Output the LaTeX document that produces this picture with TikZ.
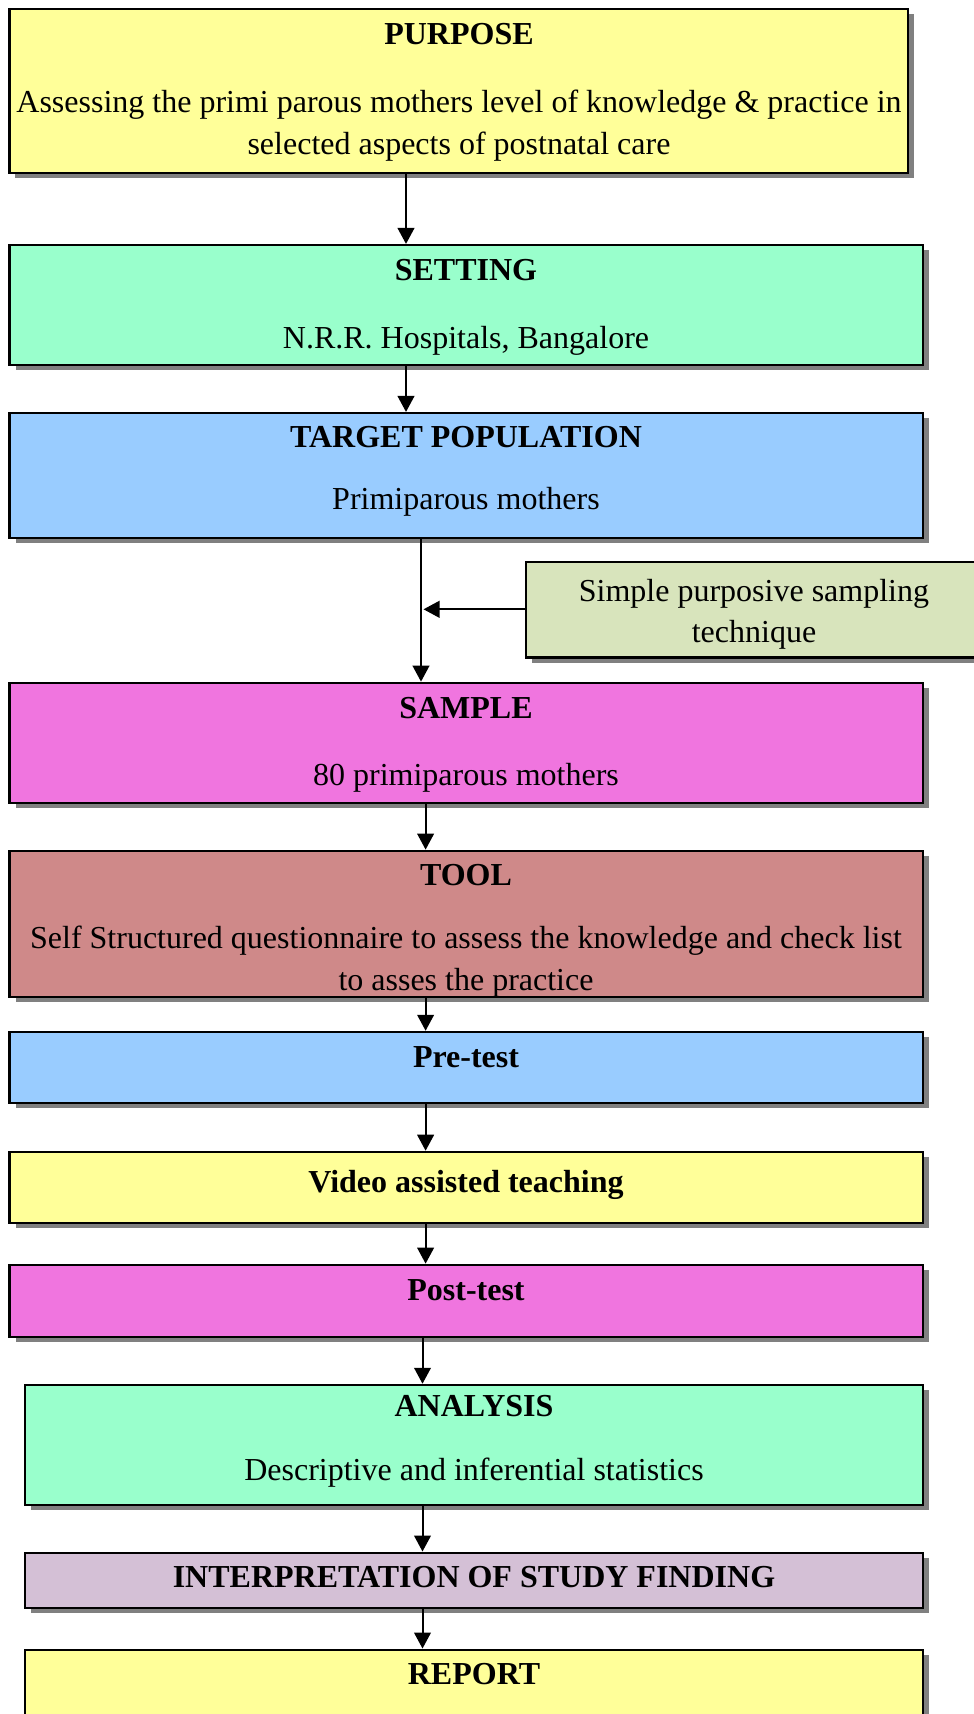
\documentclass[tikz,border=0pt]{standalone}
\usepackage{fontspec}
\setmainfont{Liberation Serif}
\usetikzlibrary{arrows.meta,shadows}
\definecolor{cyel}{HTML}{FFFF99}
\definecolor{cgrn}{HTML}{99FFCC}
\definecolor{cblu}{HTML}{99CCFF}
\definecolor{colv}{HTML}{D8E4BC}
\definecolor{cpnk}{HTML}{F075DF}
\definecolor{crose}{HTML}{CF8989}
\definecolor{clav}{HTML}{D4C0D6}
\begin{document}
\begin{tikzpicture}[x=0.75pt,y=-0.75pt,
  box/.style={draw=black, line width=1.6pt, rectangle, inner sep=0pt,
    drop shadow={shadow xshift=4.5pt, shadow yshift=-3.8pt, fill=black!50, opacity=1}},
  txt/.style={anchor=base, inner sep=0pt, font=\fontsize{24}{29}\selectfont},
  ttl/.style={txt, font=\fontsize{24}{29}\selectfont\bfseries},
  arr/.style={draw=black, line width=1.5pt, -{Triangle[length=12pt,width=12.5pt]}}]
\useasboundingbox (0,0) rectangle (974,1714);
\fill[white] (0,0) rectangle (974,1714);
\begin{scope}
\clip (0,0) rectangle (974,1714);
% boxes
\node[box, fill=cyel, minimum width=673.9pt, minimum height=123pt] (purpose) at (458.75,91) {};
\node[box, fill=cgrn, minimum width=685.1pt, minimum height=90pt] (setting) at (466.25,305) {};
\node[box, fill=cblu, minimum width=685.1pt, minimum height=93.75pt] (target) at (466.25,475.5) {};
\node[box, fill=colv, minimum width=342pt, minimum height=71.6pt] (simple) at (754,609.75) {};
\node[box, fill=cpnk, minimum width=685.1pt, minimum height=90.2pt] (sample) at (466.25,742.85) {};
\node[box, fill=crose, minimum width=685.1pt, minimum height=110pt] (tool) at (466.25,924) {};
\node[box, fill=cblu, minimum width=685.1pt, minimum height=53.6pt] (pre) at (466.25,1067.55) {};
\node[box, fill=cyel, minimum width=685.1pt, minimum height=53.7pt] (video) at (466.25,1187.6) {};
\node[box, fill=cpnk, minimum width=685.1pt, minimum height=54pt] (post) at (466.25,1300.7) {};
\node[box, fill=cgrn, minimum width=673.5pt, minimum height=90.3pt] (analysis) at (474,1445) {};
\node[box, fill=clav, minimum width=673.5pt, minimum height=41.5pt] (interp) at (474,1580.25) {};
\node[box, fill=cyel, minimum width=673.5pt, minimum height=90pt] (report) at (474,1709.6) {};
% texts
\node[ttl] (tpurpose) at (459,44.6) {PURPOSE};
\node[txt] (tpurpose1) at (459,112.5) {Assessing the primi parous mothers level of knowledge \& practice in};
\node[txt] (tpurpose2) at (459,154) {selected aspects of postnatal care};
\node[ttl] (tsetting) at (466,280) {SETTING};
\node[txt] (tsetting1) at (466,348) {N.R.R. Hospitals, Bangalore};
\node[ttl] (ttarget) at (466,447) {TARGET POPULATION};
\node[txt] (ttarget1) at (466,509) {Primiparous mothers};
\node[txt] (tsimple1) at (754,601) {Simple purposive sampling};
\node[txt] (tsimple2) at (754,642.6) {technique};
\node[ttl] (tsample) at (466,718) {SAMPLE};
\node[txt] (tsample1) at (466,785) {80 primiparous mothers};
\node[ttl] (ttool) at (466,885) {TOOL};
\node[txt] (ttool1) at (466,948.7) {Self Structured questionnaire to assess the knowledge and check list};
\node[txt] (ttool2) at (466,990.8) {to asses the practice};
\node[ttl] (tpre) at (466,1067) {Pre-test};
\node[ttl] (tvideo) at (466,1192.7) {Video assisted teaching};
\node[ttl] (tpost) at (466,1300) {Post-test};
\node[ttl] (tanalysis) at (474,1416.6) {ANALYSIS};
\node[txt] (tanalysis1) at (474,1480) {Descriptive and inferential statistics};
\node[ttl] (tinterp) at (474,1587.8) {INTERPRETATION OF STUDY FINDING};
\node[ttl] (treport) at (474,1684.4) {REPORT};
% arrow columns
\coordinate (c1) at (406,0);
\coordinate (c2) at (421,0);
\coordinate (c3) at (425.6,0);
\coordinate (c4) at (422.5,0);
\coordinate (cs) at (423.5,609.3);
\draw[arr] (purpose.south -| c1) -- (setting.north -| c1);
\draw[arr] (setting.south -| c1) -- (target.north -| c1);
\draw[arr] (target.south -| c2) -- (sample.north -| c2);
\draw[arr] (simple.west |- cs) -- (cs);
\draw[arr] (sample.south -| c3) -- (tool.north -| c3);
\draw[arr] (tool.south -| c3) -- (pre.north -| c3);
\draw[arr] (pre.south -| c3) -- (video.north -| c3);
\draw[arr] (video.south -| c3) -- (post.north -| c3);
\draw[arr] (post.south -| c4) -- (analysis.north -| c4);
\draw[arr] (analysis.south -| c4) -- (interp.north -| c4);
\draw[arr] (interp.south -| c4) -- (report.north -| c4);
\end{scope}
\end{tikzpicture}
\end{document}
